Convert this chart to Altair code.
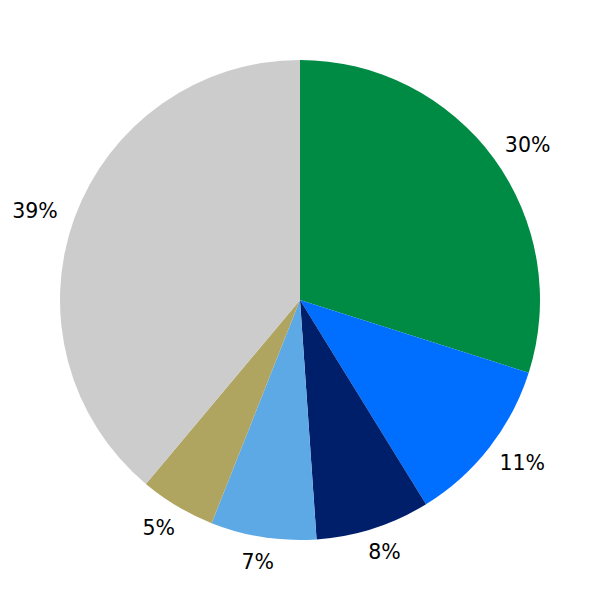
import altair as alt
import pandas as pd

labels = ["30%", "11%", "8%", "7%", "5%", "39%"]
values = [29.9, 11.3, 7.7, 7.1, 5.1, 38.9]
colors = ["#008B45", "#006EFF", "#001F6B", "#5DA9E6", "#B0A560", "#CCCCCC"]

df = pd.DataFrame({"idx": list(range(len(values))), "value": values, "label": labels})

base = alt.Chart(df)

arc = base.mark_arc(outerRadius=240, stroke=None).encode(
    theta=alt.Theta("value:Q", stack=True),
    color=alt.Color("idx:N", scale=alt.Scale(domain=list(range(len(values))), range=colors), legend=None),
    order=alt.Order("idx:Q"),
)

text = base.transform_window(
    cum="sum(value)", sort=[alt.SortField("idx")], frame=[None, 0]
).transform_joinaggregate(
    total="sum(value)"
).transform_calculate(
    mid="2*PI*(datum.cum - datum.value/2)/datum.total",
    nch="length(datum.label)",
).transform_calculate(
    lx="sin(datum.mid)*(264 + 6*datum.nch)",
    ly="cos(datum.mid)*264",
).mark_text(fontSize=20.5, font="DejaVu Sans", color="black", align="center", baseline="middle", dy=2).encode(
    x=alt.X("lx:Q", scale=alt.Scale(domain=[-292, 292], nice=False, zero=False), axis=None),
    y=alt.Y("ly:Q", scale=alt.Scale(domain=[-292, 292], nice=False, zero=False), axis=None),
    text="label:N",
)

chart = alt.layer(arc, text).properties(
    width=584, height=584, padding=0, autosize="none"
).configure_view(stroke=None)

chart.save("out.html", embed_options={"renderer": "svg", "actions": False})
